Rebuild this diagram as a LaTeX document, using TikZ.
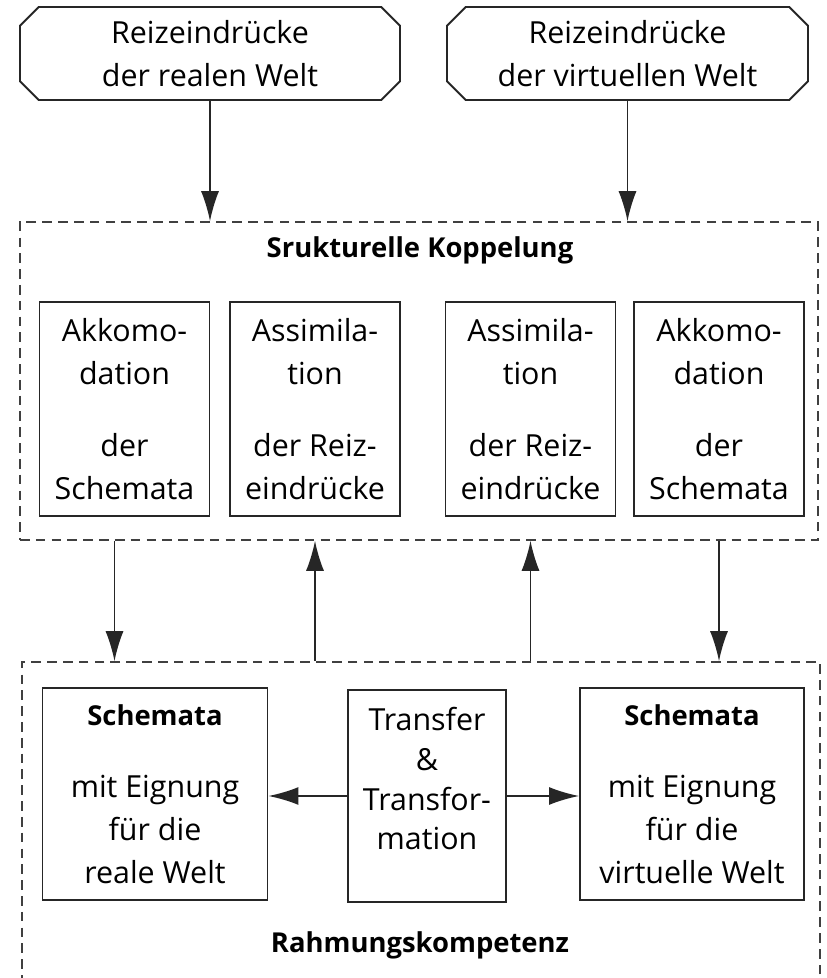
\documentclass[tikz,border=0pt]{standalone}
\usepackage{fontspec}
\setmainfont{Open Sans}
\usetikzlibrary{shapes.misc,arrows.meta}
\tikzset{every picture/.style={line width=1.1pt}}
\newcommand{\boxfont}{\fontsize{17.3}{24.4}\selectfont}
\newcommand{\titlefont}{\fontsize{15.6}{24.4}\selectfont\bfseries}
\tikzset{
  reiz/.style={draw=black!85, chamfered rectangle, chamfered rectangle xsep=0.25cm,
    minimum height=1.86cm, align=center, font=\boxfont},
  zone/.style={draw=black!75, dash pattern=on 5.5pt off 3.5pt, line width=0.9pt},
  stufe/.style={draw=black!85, minimum width=3.4cm, minimum height=4.28cm, align=center, font=\boxfont},
  schema/.style={draw=black!85, minimum width=4.5cm, minimum height=4.24cm, align=center, font=\boxfont},
  pfeil/.style={-{Latex[length=0.6cm,width=0.36cm]}, draw=black!85, line width=0.9pt}
}

\begin{document}
\begin{tikzpicture}
    	\clip (0,0) rectangle (16.54,19.56);
    	\node[reiz, minimum width=7.6cm](RR) at (4.2,18.49){Reizeindrücke\\der realen Welt};
    	\node[reiz, minimum width=7.22cm](RV) at (12.55,18.49){Reizeindrücke\\der virtuellen Welt};
    	\node[zone, minimum width=15.96cm, minimum height=6.36cm](SK) at (8.38,11.94){};
    	\node[font=\titlefont](SKL) at (8.4,14.56){Srukturelle Koppelung};
    	\node[stufe](A1) at (2.49,11.38){Akkomo-\\dation\\[0.58cm]der\\Schemata};
    	\node[stufe](A2) at (6.3,11.38){Assimila-\\tion\\[0.58cm]der Reiz-\\eindrücke};
    	\node[stufe](A3) at (10.61,11.38){Assimila-\\tion\\[0.58cm]der Reiz-\\eindrücke};
    	\node[stufe](A4) at (14.38,11.38){Akkomo-\\dation\\[0.58cm]der\\Schemata};
    	\node[zone, minimum width=15.96cm, minimum height=8cm](RK) at (8.42,2.32){};
    	\node[font=\titlefont](RKL) at (8.4,0.66){Rahmungskompetenz};
    	\node[schema](S1) at (3.1,3.68){{\titlefont Schemata}\\[0.58cm]mit Eignung\\für die\\reale Welt};
    	\node[schema, minimum width=3.16cm, font=\fontsize{17.3}{22.6}\selectfont](T) at (8.54,3.64){Transfer\\\&\\Transfor-\\mation\\[-0.1cm]~};
    	\node[schema, minimum width=4.48cm](S2) at (13.84,3.68){{\titlefont Schemata}\\[0.58cm]mit Eignung\\für die\\virtuelle Welt};
    	\draw[pfeil] (RR.south) -- (RR.south |- SK.north);
    	\draw[pfeil] (RV.south) -- (RV.south |- SK.north);
    	\draw[pfeil] ([xshift=-0.2cm]A1.south |- SK.south) -- ([xshift=-0.2cm]A1.south |- RK.north);
    	\draw[pfeil] (A2.south |- RK.north) -- (A2.south |- SK.south);
    	\draw[pfeil] (A3.south |- RK.north) -- (A3.south |- SK.south);
    	\draw[pfeil] (A4.south |- SK.south) -- (A4.south |- RK.north);
    	\draw[pfeil] (T.west) -- (T.west -| S1.east);
    	\draw[pfeil] (T.east) -- (T.east -| S2.west);
    \end{tikzpicture}
\end{document}
